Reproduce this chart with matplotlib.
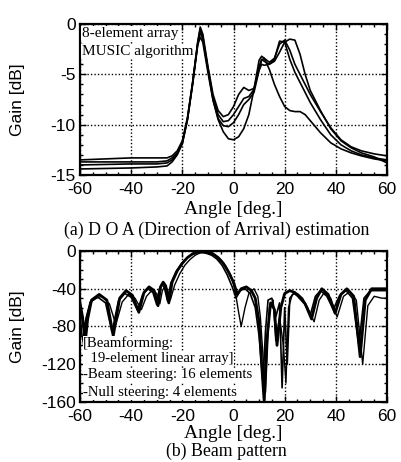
# DOA estimation spectra (a) and beam patterns (b), two stacked panels
import matplotlib.pyplot as plt
from matplotlib.ticker import MultipleLocator

plt.rcParams["axes.unicode_minus"] = False

# ---- data: (a) MUSIC spectra, 4 runs ----
doa_ang = [-60, -40, -30, -26, -24, -22, -20, -18, -16, -14, -13, -12, -10, -8, -6, -4, -2,
           0, 2, 4, 6, 8, 10, 11, 12, 14, 16, 18, 20, 22, 24, 26, 28, 30, 34, 38, 42, 46,
           50, 55, 60]
doa_a = [-13.7, -13.7, -13.7, -13.6, -13.3, -12.8, -11.8, -9.5, -6.0, -2.0,
         -0.8, -1.5, -4.5, -7.5, -9.5, -10.7, -11.4, -11.5, -11.2, -10.4,
         -9.0, -6.5, -3.6, -3.2, -3.4, -4.5, -6.0, -7.2, -8.2, -8.6,
         -8.7, -8.7, -9.0, -9.6, -10.8, -11.8, -12.4, -12.8, -13.1, -13.4, -13.6]
doa_b = [-13.5, -13.3, -13.3, -13.3, -13.1, -12.6, -11.6, -9.3, -5.8, -1.8,
         -0.3, -1.0, -4.2, -7.0, -8.6, -9.2, -9.0, -8.2, -7.0, -6.3,
         -6.6, -6.4, -4.5, -3.6, -3.4, -3.8, -3.4, -2.0, -1.6, -2.6,
         -4.0, -5.0, -6.0, -7.0, -8.7, -10.3, -11.5, -12.2, -12.6, -12.9, -13.1]
doa_c = [-14.0, -13.9, -13.9, -13.8, -13.5, -12.9, -11.8, -9.4, -5.9, -1.9,
         -0.5, -1.2, -4.4, -7.3, -9.0, -9.7, -9.6, -9.0, -8.2, -7.4,
         -7.2, -6.5, -4.2, -3.5, -3.7, -4.0, -3.5, -1.7, -1.8, -3.5,
         -4.8, -5.8, -6.8, -7.8, -9.5, -11.0, -12.0, -12.6, -13.0, -13.3, -13.5]
doa_d = [-14.4, -14.3, -14.2, -14.1, -13.7, -13.0, -11.9, -9.5, -6.0, -2.1,
         -1.3, -1.8, -4.8, -7.6, -9.4, -10.1, -10.2, -9.8, -9.0, -8.0,
         -7.5, -6.8, -4.6, -4.0, -4.1, -4.0, -3.7, -2.8, -1.8, -1.5,
         -1.6, -3.0, -5.0, -6.6, -8.6, -10.4, -11.6, -12.3, -12.8, -13.2, -13.8]

# ---- data: (b) beam patterns, 3 runs ----
bp_ang_1 = [-60, -59, -58, -57, -55.5, -52.5, -49.5, -47, -44.5, -42, -39.5, -37, -35, -33,
            -31, -29.5, -28.5, -27.5, -26.5, -25.3, -24, -22, -20, -18, -16, -14, -12, -10,
            -8, -6, -4, -2, 0, 1.5, 3, 5, 7, 8.5, 10, 11, 12, 13, 14.5, 16, 17, 18.5, 20,
            22, 24, 26, 28, 30.5, 32.5, 34.5, 37, 39.7, 42, 44.3, 47, 49.5, 51.5, 54, 57, 60]
bp_gain_1 = [-55, -70, -98, -72, -52, -46, -52, -90, -50, -42, -47, -65, -44, -38,
             -42, -58, -38, -33, -37, -55, -33, -21, -13, -7, -3, -0.8, 0, -0.8,
             -3, -7, -13, -22, -33, -46, -40, -38, -42, -50, -75, -120, -160, -95, -55, -62,
             -100, -60, -45, -42, -44, -50, -56, -72, -50, -40, -46, -66, -46, -40, -48,
             -112, -52, -40, -40, -40]
bp_ang_2 = [-60, -58.5, -57, -56, -54, -51.5, -48.5, -46, -43.5, -41, -38.5, -36, -34, -32,
            -30, -28.8, -27.8, -26.8, -25.8, -24.7, -23, -21, -19, -17, -15, -13, -11, -9,
            -7, -5, -3, -1, 0.5, 2, 3, 4.5, 6, 8, 9.5, 10.5, 11.5, 12.5, 14, 15.5, 16.5,
            18, 19.5, 20.5, 21.5, 23, 25, 27, 29, 31.5, 33.5, 35.5, 38, 40.5, 43, 45.5,
            48, 50.5, 52.5, 55, 58, 60]
bp_gain_2 = [-62, -80, -65, -55, -50, -48, -56, -78, -54, -46, -50, -62, -48, -42,
             -45, -56, -42, -37, -41, -52, -36, -24, -15, -9, -4.5, -2, -1.5, -2.5,
             -5, -9, -16, -26, -40, -65, -80, -60, -45, -40, -48, -70, -110, -150, -60, -52,
             -95, -70, -100, -140, -60, -46, -45, -50, -60, -75, -52, -44, -50, -70, -48,
             -43, -52, -120, -58, -48, -50, -50]
bp_ang_3 = [-60, -59.5, -58.5, -57.5, -56, -53, -50, -47.5, -45, -42.5, -40, -37.5, -35.5,
            -33.5, -31.5, -30, -29, -28, -27, -25.8, -24.5, -22.5, -20.5, -18.5, -16.5,
            -14.5, -12.5, -10.5, -8.5, -6.5, -4.5, -2.5, -0.5, 1, 2.5, 4.5, 6.5, 8.5, 10,
            11.5, 12.5, 13.5, 15, 16.5, 18, 19, 20, 21, 22, 23.5, 25.5, 27.5, 30, 32, 34,
            36.5, 39, 41.5, 44, 46.5, 49, 51, 53.5, 56.5, 60]
bp_gain_3 = [-58, -85, -100, -70, -54, -49, -55, -86, -53, -45, -49, -63, -46,
             -40, -44, -57, -40, -35, -39, -53, -34, -22, -14, -8, -4,
             -2, -1.5, -2.5, -4.5, -8.5, -15, -25, -38, -50, -42, -40, -45, -60, -90,
             -140, -85, -52, -50, -70, -55, -145, -60, -120, -50, -45, -48, -54, -68, -48,
             -42, -48, -62, -47, -42, -50, -100, -50, -42, -42, -42]

x_ticks = [-60, -40, -20, 0, 20, 40, 60]
top_yticks = [0, -5, -10, -15]
bot_yticks = [0, -40, -80, -120, -160]

top_notes = ["8-element array", "MUSIC algorithm"]
bot_notes = ["[Beamforming:", "  19-element linear array]",
             "-Beam steering: 16 elements", "-Null steering: 4 elements"]

sans = "Liberation Sans"
serif = "Liberation Serif"

fig = plt.figure(figsize=(4.01, 4.62), dpi=100)
ax1 = fig.add_axes([0.1995, 0.6212, 0.7656, 0.3268])
ax2 = fig.add_axes([0.1995, 0.1299, 0.7656, 0.3268])

for g in [doa_a, doa_b, doa_c, doa_d]:
    ax1.plot(doa_ang, g, color="black", lw=1.2)

ax2.plot(bp_ang_2, bp_gain_2, color="black", lw=1.0)
ax2.plot(bp_ang_3, bp_gain_3, color="black", lw=1.2)
ax2.plot(bp_ang_1, bp_gain_1, color="black", lw=2.0)

ax1.set_ylim(-15, 0)
ax1.set_yticks(top_yticks)
ax1.yaxis.set_minor_locator(MultipleLocator(1))
ax2.set_ylim(-160, 0)
ax2.set_yticks(bot_yticks)
ax2.yaxis.set_minor_locator(MultipleLocator(10))

for ax in [ax1, ax2]:
    ax.set_xlim(-60, 60)
    ax.set_xticks(x_ticks)
    ax.xaxis.set_minor_locator(MultipleLocator(5))
    ax.tick_params(which="both", direction="in", top=True, right=True, width=1.0)
    ax.tick_params(which="major", length=4, labelsize=12.5)
    ax.tick_params(axis="x", which="major", pad=5)
    ax.tick_params(axis="y", which="major", pad=3)
    ax.tick_params(which="minor", length=2)
    for lab in ax.get_xticklabels() + ax.get_yticklabels():
        lab.set_family(sans)
    ax.grid(True, which="major", color="black", lw=1.0, ls=(0, (1, 1.5)))
    for s in ax.spines.values():
        s.set_linewidth(1.6)
    ax.set_ylabel("Gain [dB]", family=sans, fontsize=12.5)
    ax.yaxis.set_label_coords(-0.18, 0.5)

ax1.set_xlabel("Angle [deg.]", family=serif, fontsize=14, labelpad=3)
ax2.set_xlabel("Angle [deg.]", family=serif, fontsize=14, labelpad=1)

ax1.text(0.005, 0.94, top_notes[0], transform=ax1.transAxes, family=serif, fontsize=11,
         va="center", ha="left", bbox=dict(fc="white", ec="none", pad=0.5))
ax1.text(0.005, 0.82, top_notes[1], transform=ax1.transAxes, family=serif, fontsize=11,
         va="center", ha="left", bbox=dict(fc="white", ec="none", pad=0.5))

for yy, t in zip([0.39, 0.285, 0.18, 0.06], bot_notes):
    ax2.text(0.01, yy, t, transform=ax2.transAxes, family=serif, fontsize=10.6,
             va="center", ha="left", bbox=dict(fc="white", ec="none", pad=0.3))

fig.text(0.54, 0.503, "(a) D O A (Direction of Arrival) estimation", family=serif,
         fontsize=12.8, ha="center", va="center")
fig.text(0.565, 0.022, "(b) Beam pattern", family=serif, fontsize=12.8,
         ha="center", va="center")

fig.savefig("out.png", dpi=100)
